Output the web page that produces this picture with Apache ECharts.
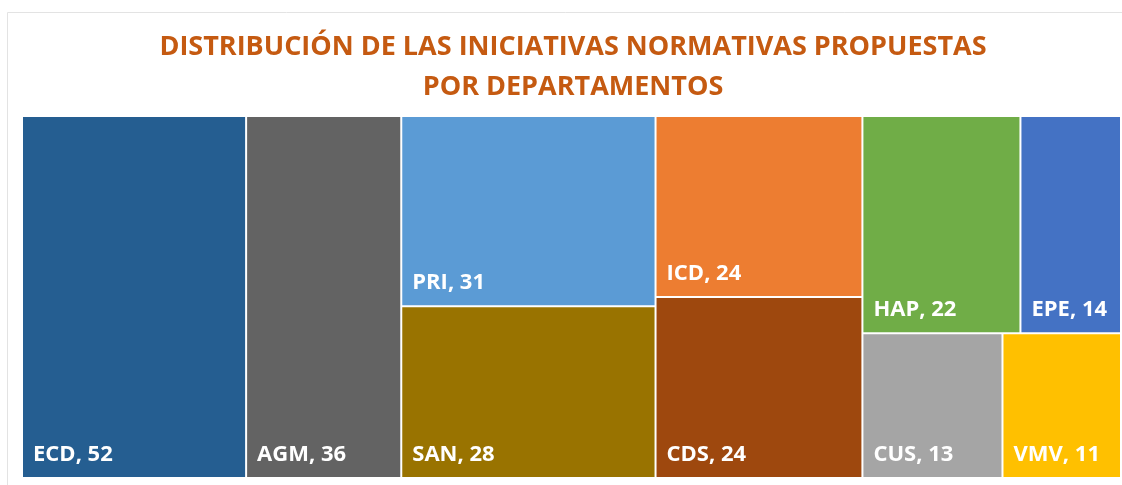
<!DOCTYPE html>
<html>
<head>
<meta charset="utf-8">
<script src="https://cdn.jsdelivr.net/npm/echarts@6/dist/echarts.min.js"></script>
<style>
  html, body { margin: 0; padding: 0; background: #fff; }
  #main { width: 1122px; height: 485px; }
</style>
</head>
<body>
<div id="main"></div>
<script>
// departamentos y numero de iniciativas
var names  = ['ECD', 'AGM', 'PRI', 'SAN', 'ICD', 'CDS', 'HAP', 'EPE', 'CUS', 'VMV'];
var values = [52, 36, 31, 28, 24, 24, 22, 14, 13, 11];
var colors = ['#255E91', '#636363', '#5B9BD5', '#997300', '#ED7D31',
              '#9E480E', '#70AD47', '#4472C4', '#A5A5A5', '#FFC000'];
// agrupacion de bloques (como la disposicion de Excel)
var blocks = [[0], [1], [2, 3], [4, 5], [[6, 7], [8, 9]]];

function leaf(i) {
    return { name: names[i], value: values[i], itemStyle: { color: colors[i] } };
}
function build(b) {
    if (typeof b === 'number') return leaf(b);
    if (b.length === 1) return build(b[0]);
    var kids = b.map(build);
    var sum = kids.reduce(function (s, k) { return s + k.value; }, 0);
    return { name: '', value: sum, children: kids };
}
var data = blocks.map(build);

var myChart = echarts.init(document.getElementById('main'));

var option = {
    animation: false,
    title: {
        text: 'DISTRIBUCIÓN DE LAS INICIATIVAS NORMATIVAS PROPUESTAS\nPOR DEPARTAMENTOS',
        left: 573,
        top: 27,
        textAlign: 'center',
        padding: 0,
        textStyle: {
            color: '#C55A11',
            fontFamily: 'Open Sans',
            fontWeight: 'bold',
            fontSize: 27,
            lineHeight: 40
        }
    },
    graphic: [{
        type: 'rect',
        z: -10,
        shape: { x: 7.5, y: 12.5, width: 1200, height: 500 },
        style: { fill: 'none', stroke: '#e3e3e3', lineWidth: 1 }
    }],
    series: [{
        type: 'treemap',
        left: 23,
        top: 117,
        right: 2,
        bottom: 8,
        sort: false,
        squareRatio: 1,
        roam: false,
        nodeClick: false,
        breadcrumb: { show: false },
        itemStyle: { borderWidth: 0, gapWidth: 2, borderColor: '#fff' },
        label: {
            show: true,
            position: 'insideBottomLeft',
            offset: [5, -6],
            formatter: '{b}, {c}',
            color: '#fff',
            fontFamily: 'Open Sans',
            fontWeight: 'bold',
            fontSize: 22
        },
        upperLabel: { show: false },
        data: data
    }]
};

myChart.setOption(option);
</script>
</body>
</html>
